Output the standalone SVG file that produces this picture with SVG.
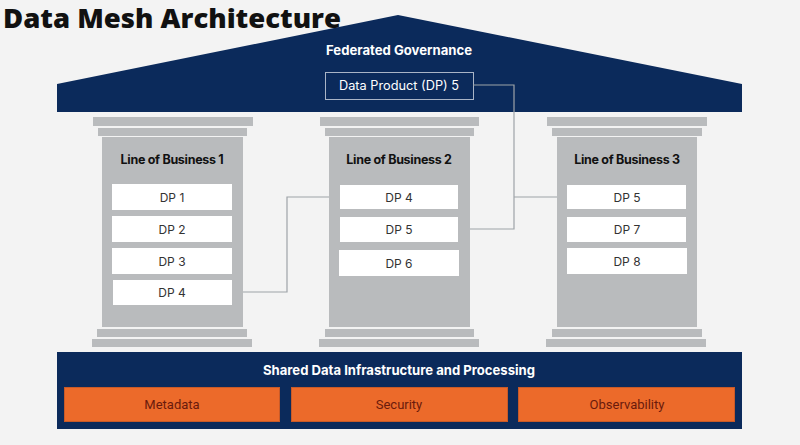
<svg xmlns="http://www.w3.org/2000/svg" width="800" height="445" viewBox="0 0 800 445">
<style>
.navy{fill:#0b2a5b}
.gray{fill:#b9bbbd}
.dp{fill:#ffffff}
.dpt{font-family:Inter,"Liberation Sans",sans-serif;font-size:12px;fill:#333333;text-anchor:middle}
.lob{font-family:Inter,"Liberation Sans",sans-serif;font-size:12.5px;font-weight:bold;fill:#111111;text-anchor:middle;letter-spacing:-0.3px}
.wb{font-family:Inter,"Liberation Sans",sans-serif;font-weight:bold;fill:#ffffff;text-anchor:middle}
.or{fill:#ec6a2a;stroke:#c85a28;stroke-width:1}
.ort{font-family:Roboto,"Liberation Sans",sans-serif;font-size:13px;fill:#6a1a0c;text-anchor:middle}
.con{fill:none;stroke:#9ea3a8;stroke-width:1.2}
</style>
<rect width="800" height="445" fill="#f3f3f3"/>
<g id="roof">
<polygon class="navy" points="57,84 398,15 742,84 742,112 57,112"/>
<text class="wb" x="399" y="55" font-size="13" textLength="146" lengthAdjust="spacingAndGlyphs">Federated Governance</text>
</g>
<g id="dp5-gov">
<rect x="325.5" y="72.5" width="148" height="27" fill="none" stroke="#a9b4c6" stroke-width="1"/>
<text x="399" y="90" font-family="Inter,'Liberation Sans',sans-serif" font-size="12.5" fill="#ffffff" text-anchor="middle" textLength="120" lengthAdjust="spacingAndGlyphs">Data Product (DP) 5</text>
</g>
<g id="connectors">
<polyline class="con" points="232,292 287,292 287,197 330,197"/>
<polyline class="con" points="473,85 514,85 514,229 470,229"/>
<line class="con" x1="514" y1="197" x2="557" y2="197"/>
</g>
<g id="pillar1">
<rect class="gray" x="93" y="117" width="160" height="9"/>
<rect class="gray" x="98" y="128" width="149" height="8"/>
<rect class="gray" x="102" y="137" width="141" height="190"/>
<rect class="gray" x="97" y="329" width="150" height="8"/>
<rect class="gray" x="92" y="339" width="160" height="8"/>
<text class="lob" x="172" y="164">Line of Business 1</text>
<rect class="dp" x="112" y="184" width="120" height="26"/>
<text class="dpt" x="172" y="202">DP 1</text>
<rect class="dp" x="112" y="216" width="120" height="26"/>
<text class="dpt" x="172" y="234">DP 2</text>
<rect class="dp" x="112" y="248" width="120" height="26"/>
<text class="dpt" x="172" y="266">DP 3</text>
<rect class="dp" x="113" y="280" width="119" height="25"/>
<text class="dpt" x="172" y="297">DP 4</text>
</g>
<g id="pillar2">
<rect class="gray" x="320" y="117" width="159" height="9"/>
<rect class="gray" x="325" y="128" width="149" height="8"/>
<rect class="gray" x="329" y="137" width="141" height="190"/>
<rect class="gray" x="325" y="329" width="149" height="8"/>
<rect class="gray" x="319" y="339" width="160" height="8"/>
<text class="lob" x="399" y="164">Line of Business 2</text>
<rect class="dp" x="340" y="185" width="118" height="24"/>
<text class="dpt" x="399" y="202">DP 4</text>
<rect class="dp" x="340" y="217" width="118" height="25"/>
<text class="dpt" x="399" y="234">DP 5</text>
<rect class="dp" x="339" y="250" width="120" height="26"/>
<text class="dpt" x="399" y="268">DP 6</text>
</g>
<g id="pillar3">
<rect class="gray" x="547" y="117" width="160" height="9"/>
<rect class="gray" x="552" y="128" width="150" height="8"/>
<rect class="gray" x="557" y="137" width="140" height="190"/>
<rect class="gray" x="552" y="329" width="150" height="8"/>
<rect class="gray" x="546" y="339" width="160" height="8"/>
<text class="lob" x="627" y="164">Line of Business 3</text>
<rect class="dp" x="567" y="185" width="119" height="24"/>
<text class="dpt" x="627" y="202">DP 5</text>
<rect class="dp" x="567" y="217" width="119" height="25"/>
<text class="dpt" x="627" y="234">DP 7</text>
<rect class="dp" x="567" y="248" width="120" height="26"/>
<text class="dpt" x="627" y="266">DP 8</text>
</g>
<g id="infrastructure">
<rect class="navy" x="57" y="352" width="685" height="77"/>
<text class="wb" x="399" y="375" font-size="13.5" textLength="272" lengthAdjust="spacingAndGlyphs">Shared Data Infrastructure and Processing</text>
<rect class="or" x="64.5" y="387.5" width="215" height="34"/>
<text class="ort" x="172" y="409">Metadata</text>
<rect class="or" x="291.5" y="387.5" width="216" height="34"/>
<text class="ort" x="399" y="409">Security</text>
<rect class="or" x="518.5" y="387.5" width="216" height="34"/>
<text class="ort" x="627" y="409">Observability</text>
</g>
<text x="3" y="28" font-family="'Open Sans','Liberation Sans',sans-serif" font-size="27" font-weight="800" fill="#111111" textLength="338" lengthAdjust="spacingAndGlyphs">Data Mesh Architecture</text>
</svg>
